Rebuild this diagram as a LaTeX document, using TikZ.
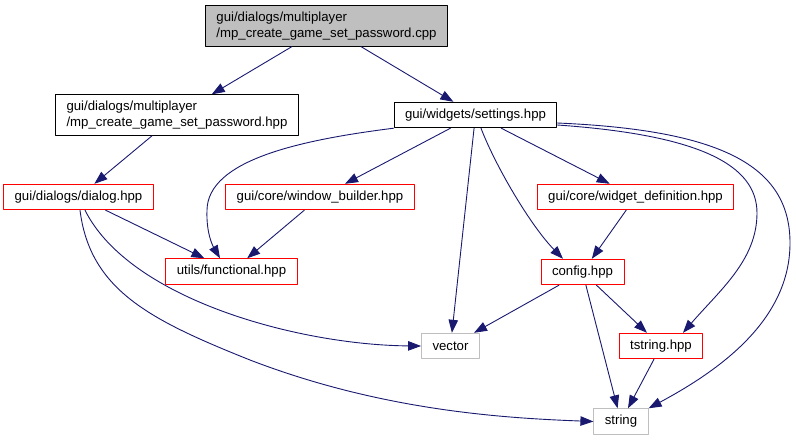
\documentclass[tikz,border=0pt]{standalone}
\usepackage{fontspec}
\setmainfont{Liberation Sans}
\usetikzlibrary{arrows.meta}
\definecolor{edgeblue}{RGB}{25,25,112}
\definecolor{boxgray}{RGB}{191,191,191}
\begin{document}
\begin{tikzpicture}[x=1pt, y=1pt, line join=round, line cap=round, >={Triangle[length=13pt,width=9.5pt]},
	file/.style={draw, line width=0.9pt, inner xsep=11pt, inner ysep=0pt, minimum height=25.5pt, font=\fontsize{13.2}{16}\selectfont},
	twoline/.style={file, align=left, minimum height=40.5pt},
	extfile/.style={file, draw=boxgray},
	incfile/.style={file, draw=red},
	dep/.style={->, draw=edgeblue, line width=0.9pt}]
				\useasboundingbox (0,0) rectangle (796,-440);
				\node[twoline, fill=boxgray] (cpp) at (326.5,-26) {gui/dialogs/multiplayer\\/mp\_create\_game\_set\_password.cpp};
				\node[twoline] (hpp) at (177,-115) {gui/dialogs/multiplayer\\/mp\_create\_game\_set\_password.hpp};
				\node[file] (settings) at (475.5,-115) {gui/widgets/settings.hpp};
				\node[incfile] (dialog) at (78.5,-197) {gui/dialogs/dialog.hpp};
				\node[incfile] (winbuilder) at (320,-197) {gui/core/window\_builder.hpp};
				\node[incfile] (widgetdef) at (635.5,-197) {gui/core/widget\_definition.hpp};
				\node[incfile] (functional) at (231.5,-271.5) {utils/functional.hpp};
				\node[incfile] (config) at (582.5,-272) {config.hpp};
				\node[extfile] (vector) at (450.5,-346) {vector};
				\node[incfile] (tstring) at (661,-346) {tstring.hpp};
				\node[extfile] (string) at (621,-421.5) {string};
				\draw[dep] (cpp) -- (hpp);
				\draw[dep] (cpp) -- (settings);
				\draw[dep] (hpp) -- (dialog);
				\draw[dep] (settings) -- (winbuilder);
				\draw[dep] (settings) -- (vector);
				\draw[dep] (settings) -- (widgetdef);
				\draw[dep] (settings.south west) .. controls (300,-140) and (208,-160) .. (207,-210) .. controls (206,-235) and (214,-248) .. ([xshift=-11.5pt]functional.north);
				\draw[dep] ([xshift=5.5pt]settings.south) .. controls (495,-165) and (530,-225) .. ([xshift=-19.5pt]config.north);
				\draw[dep] ([yshift=-10pt]settings.east) .. controls (700,-135) and (757,-165) .. (757,-213) .. controls (757,-260) and (720,-290) .. ([xshift=22pt]tstring.north);
				\draw[dep] ([yshift=-8pt]settings.east) .. controls (720,-130) and (790,-165) .. (790,-243) .. controls (790,-320) and (720,-370) .. (string.north east);
				\draw[dep] (dialog) -- (functional);
				\draw[dep] ([xshift=6.5pt]dialog.south) .. controls (130,-300) and (300,-345) .. (vector.west);
				\draw[dep] ([xshift=1.5pt]dialog.south) .. controls (90,-290) and (150,-320) .. (250,-360) .. controls (380,-410) and (500,-418) .. (string.west);
				\draw[dep] (winbuilder) -- (functional);
				\draw[dep] (widgetdef) -- (config);
				\draw[dep] (config) -- (vector);
				\draw[dep] (config) -- (tstring);
				\draw[dep] (config) -- (string);
				\draw[dep] (tstring) -- (string);
			\end{tikzpicture}
\end{document}
